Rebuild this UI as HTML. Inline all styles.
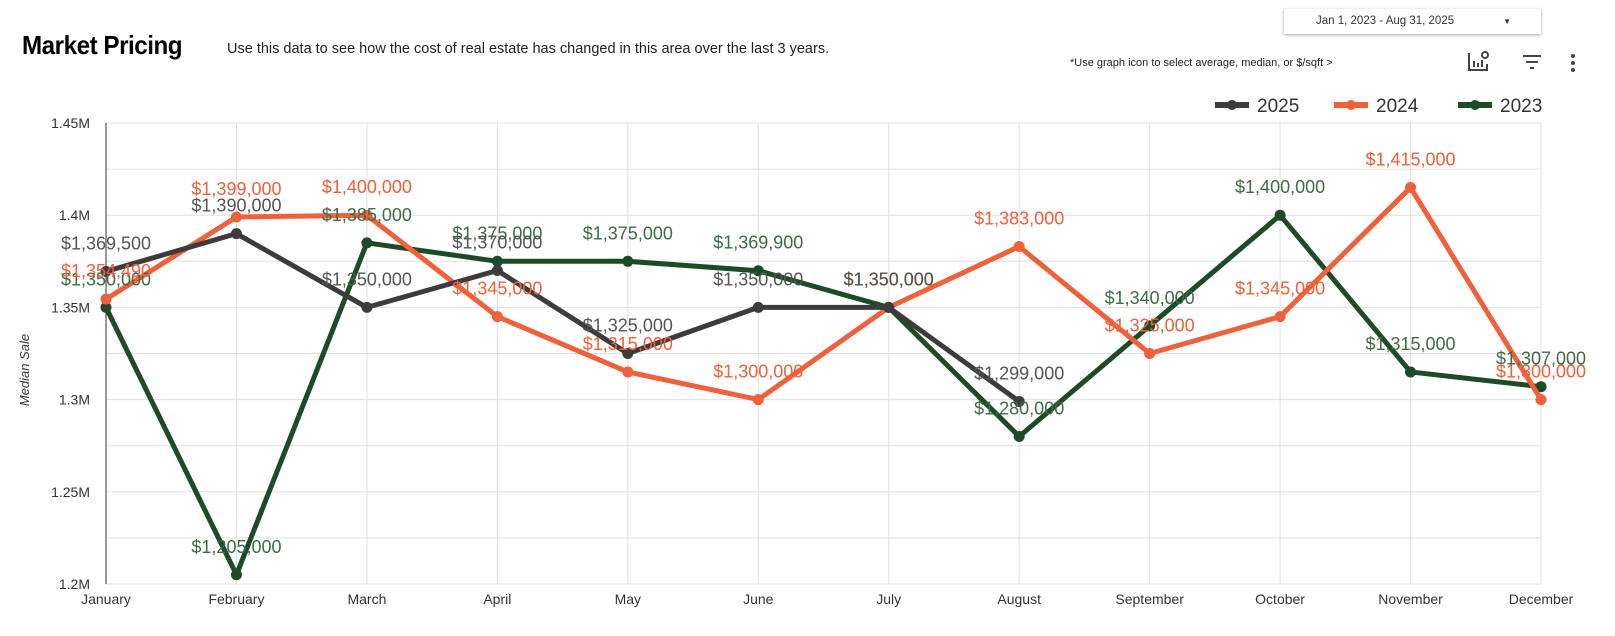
<!DOCTYPE html>
<html><head><meta charset="utf-8"><style>
body{margin:0;background:#fff;width:1615px;height:636px;overflow:hidden;font-family:"Liberation Sans",sans-serif;position:relative}
.t{position:absolute}
</style></head><body>
<div class="t" style="left:22px;top:30px;font-size:26px;font-weight:bold;font-family:'Liberation Sans Narrow','Liberation Sans',sans-serif;transform:scaleX(0.93);transform-origin:left;letter-spacing:-0.5px">Market Pricing</div>
<div class="t" style="left:227px;top:41px;font-size:14.5px;color:#222">Use this data to see how the cost of real estate has changed in this area over the last 3 years.</div>
<div class="t" style="left:1284px;top:9px;width:257px;height:25px;box-shadow:0 1px 3px rgba(0,0,0,.35);font-size:11.5px;color:#333;line-height:25px"><span style="margin-left:32px">Jan 1, 2023 - Aug 31, 2025</span><span style="position:absolute;right:30px;font-size:8px">▼</span></div>
<div class="t" style="left:1070px;top:57px;font-size:11px;color:#222">*Use graph icon to  select average, median, or $/sqft &gt;</div>
<svg class="t" style="left:0;top:0" width="1615" height="636">
<g stroke="#444" stroke-width="2" fill="none"><path d="M1469 53v17h18v-6"/><path d="M1474 67v-6M1478 67v-4M1482 67v-7"/><circle cx="1485" cy="55" r="3"/></g>
<g stroke="#444" stroke-width="2"><path d="M1523 56h18M1526 62h12M1530 68h4"/></g>
<g fill="#444"><circle cx="1573" cy="56" r="2"/><circle cx="1573" cy="63" r="2"/><circle cx="1573" cy="70" r="2"/></g>
<g id="legend"></g><g id="grid"></g><g id="series"></g><g id="labels"></g>
</svg>
<script>
const months=["January","February","March","April","May","June","July","August","September","October","November","December"];
const yTicks=[1.2,1.25,1.3,1.35,1.4,1.45];
const yTickLabels=["1.2M","1.25M","1.3M","1.35M","1.4M","1.45M"];
const seriesNames=["2025","2024","2023"];
const v2025=[1369500,1390000,1350000,1370000,1325000,1350000,1350000,1299000];
const v2024=[1354490,1399000,1400000,1345000,1315000,1300000,1350000,1383000,1325000,1345000,1415000,1300000];
const v2023=[1350000,1205000,1385000,1375000,1375000,1369900,1350000,1280000,1340000,1400000,1315000,1307000];
const NS="http://www.w3.org/2000/svg";
const X0=106,X1=1541,Y0=584,Y1=123;
const x=i=>X0+i*(X1-X0)/11;
const y=v=>Y0-(v/1e6-1.2)/0.25*(Y0-Y1);
function mk(tag,attrs,parent,text){const e=document.createElementNS(NS,tag);for(const k in attrs)e.setAttribute(k,attrs[k]);if(text!==undefined)e.textContent=text;parent.appendChild(e);return e;}
const grid=document.getElementById('grid');
for(let k=0;k<=10;k++){const v=1.2+k*0.025;const l=mk('line',{x1:X0,x2:X1,y1:y(v*1e6),y2:y(v*1e6),stroke:'#e0e0e0','stroke-width':1},grid);

}
months.forEach((m,i)=>{const l=mk('line',{x1:x(i),x2:x(i),y1:Y1,y2:Y0,stroke:i==0?'#333':'#e0e0e0','stroke-width':1},grid);


const t=mk('text',{x:x(i),y:Y0+20,'text-anchor':'middle','font-size':14,fill:'#333'},grid,m);

});
yTicks.forEach((v,i)=>{const t=mk('text',{x:X0-16,y:y(v*1e6)+5,'text-anchor':'end','font-size':14,fill:'#333'},grid,yTickLabels[i]);

});
const yt=mk('text',{transform:'translate(29,370) rotate(-90)','text-anchor':'middle','font-size':13,'font-style':'italic',fill:'#333'},grid,'Median Sale');


const data=[v2025,v2024,v2023],cols=['#3d3b3c','#f0603a','#1f4a28'],lcols=['#555','#f0603a','#3f6b48'];
const sg=document.getElementById('series'),lg=document.getElementById('labels'),leg=document.getElementById('legend');
[2,1,0].forEach(s=>{const d=data[s];
const p=mk('polyline',{points:d.map((v,i)=>x(i)+','+y(v)).join(' '),fill:'none',stroke:cols[s],'stroke-width':5,'stroke-linejoin':'round'},sg);


d.forEach((v,i)=>{const c=mk('circle',{cx:x(i),cy:y(v),r:5.5,fill:cols[s]},sg);


const t=mk('text',{x:x(i),y:y(v)-22,'text-anchor':'middle','font-size':18,fill:lcols[s]},lg,'$'+v.toLocaleString('en-US'));

});});
const lx=[1215,1334,1458];
seriesNames.forEach((n,s)=>{mk('line',{x1:lx[s],x2:lx[s]+34,y1:105,y2:105,stroke:cols[s],'stroke-width':6},leg);
mk('circle',{cx:lx[s]+17,cy:105,r:5,fill:cols[s]},leg);
const t=mk('text',{x:lx[s]+42,y:112,'font-size':19,fill:'#333'},leg,n);

});
</script>
</body></html>
